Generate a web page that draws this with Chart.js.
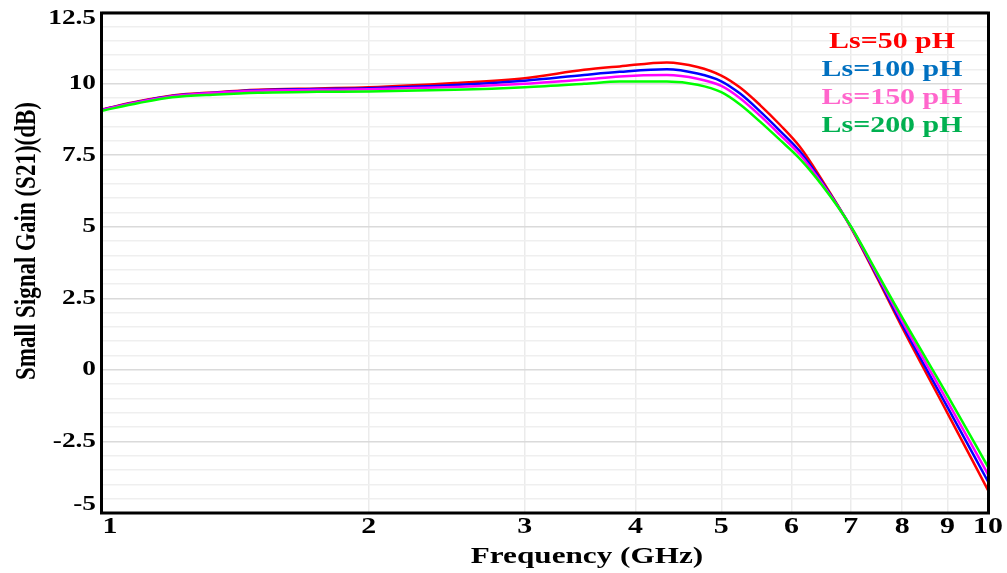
<!DOCTYPE html>
<html><head><meta charset="utf-8">
<script src="https://cdn.jsdelivr.net/npm/chart.js@4/dist/chart.umd.min.js"></script>
<style>html,body{margin:0;padding:0;background:#fff}#wrap{width:1007px;height:573px}</style>
</head><body><div id="wrap"><canvas id="c" width="1007" height="573"></canvas></div>
<script>
const freqGHz   = [1, 1.1, 1.2, 1.35, 1.5, 1.75, 2, 2.5, 3, 3.5, 3.84, 4.34, 4.7, 5, 5.25, 5.53, 5.82, 6.13, 6.5, 7, 7.5, 8, 9, 10];
const gainLs50  = [9.10, 9.38, 9.58, 9.70, 9.78, 9.83, 9.87, 10.02, 10.19, 10.48, 10.60, 10.74, 10.58, 10.28, 9.86, 9.25, 8.57, 7.80, 6.62, 4.98, 3.20, 1.48, -1.51, -4.20];
const gainLs100 = [9.09, 9.37, 9.57, 9.69, 9.77, 9.81, 9.84, 9.95, 10.10, 10.30, 10.41, 10.50, 10.35, 10.08, 9.65, 9.03, 8.36, 7.64, 6.55, 5.00, 3.26, 1.58, -1.30, -3.90];
const gainLs150 = [9.08, 9.36, 9.56, 9.68, 9.75, 9.78, 9.80, 9.88, 9.99, 10.14, 10.25, 10.30, 10.17, 9.92, 9.49, 8.88, 8.22, 7.53, 6.50, 5.00, 3.32, 1.70, -1.10, -3.65];
const gainLs200 = [9.05, 9.32, 9.52, 9.62, 9.68, 9.71, 9.72, 9.78, 9.87, 9.99, 10.07, 10.07, 9.96, 9.70, 9.27, 8.67, 8.04, 7.38, 6.44, 5.02, 3.38, 1.83, -0.89, -3.39];
const seriesNames = ['Ls=50 pH', 'Ls=100 pH', 'Ls=150 pH', 'Ls=200 pH'];
const xTickValues = [1, 2, 3, 4, 5, 6, 7, 8, 9, 10];
const yTickValues = [12.5, 10, 7.5, 5, 2.5, 0, -2.5, -5];
const yTickLabels = ['12.5', '10', '7.5', '5', '2.5', '0', '-2.5', '-5'];
const xTitle = 'Frequency (GHz)';
const yTitle = 'Small Signal Gain (S21)(dB)';

const lineColors = ['#ff0000', '#0000ff', '#ff00ff', '#00ff00'];
const legendColors = ['#ff0000', '#0070c0', '#ff66cc', '#00b050'];
const allGains = [gainLs50, gainLs100, gainLs150, gainLs200];
const FONT = '"Liberation Serif", "Times New Roman", serif';
const STRETCH = 1.3;

function stretchedText(ctx, txt, x, y, size, align, color, rot) {
  ctx.save();
  ctx.translate(x, y);
  ctx.scale(STRETCH, 1);
  if (rot) ctx.rotate(rot);
  ctx.font = 'bold ' + size + 'px ' + FONT;
  ctx.fillStyle = color;
  ctx.textAlign = align;
  ctx.textBaseline = 'middle';
  ctx.fillText(txt, 0, 0);
  ctx.restore();
}

const textPlugin = {
  id: 'textPlugin',
  afterDraw(chart) {
    const ctx = chart.ctx, a = chart.chartArea;
    const xs = chart.scales.x, ys = chart.scales.y;
    ctx.save();
    ctx.strokeStyle = '#000';
    ctx.lineWidth = 3;
    ctx.strokeRect(a.left - 0.5, a.top + 1, a.right - a.left + 1, a.bottom - a.top - 1);
    ctx.restore();
    yTickValues.forEach((v, i) => {
      let y = ys.getPixelForValue(v);
      y = Math.max(19, Math.min(505, y));
      stretchedText(ctx, yTickLabels[i], 96, y, 21, 'right', '#000');
    });
    xTickValues.forEach(v => {
      let x = xs.getPixelForValue(v);
      x = Math.max(110, Math.min(988, x));
      stretchedText(ctx, String(v), x, 527, 23, 'center', '#000');
    });
    stretchedText(ctx, xTitle, 587, 557, 24, 'center', '#000');
    stretchedText(ctx, yTitle, 27, 241, 23, 'center', '#000', -Math.PI / 2);
    seriesNames.forEach((n, i) => {
      stretchedText(ctx, n, 892, 42 + i * 28, 23, 'center', legendColors[i]);
    });
  }
};

new Chart(document.getElementById('c'), {
  type: 'line',
  data: {
    labels: freqGHz,
    datasets: seriesNames.map((n, i) => ({
      label: n,
      data: freqGHz.map((f, j) => ({ x: f, y: allGains[i][j] })),
      borderColor: lineColors[i],
      backgroundColor: lineColors[i],
      borderWidth: 2.5,
      pointRadius: 0,
      cubicInterpolationMode: 'monotone',
      fill: false
    })).reverse()
  },
  options: {
    responsive: false,
    devicePixelRatio: 1,
    animation: false,
    layout: { padding: { top: 12, right: 19, left: 0, bottom: 0 } },
    plugins: { legend: { display: false }, tooltip: { enabled: false } },
    scales: {
      x: {
        type: 'logarithmic', min: 1, max: 10,
        afterBuildTicks: s => { s.ticks = xTickValues.map(v => ({ value: v })); },
        afterFit: s => { s.height = 60; },
        ticks: { display: false },
        grid: { color: '#ebebeb', lineWidth: 1.5, drawTicks: false },
        border: { display: false }
      },
      y: {
        min: -5, max: 12.5,
        ticks: { display: false, stepSize: 0.5 },
        afterFit: s => { s.width = 102; },
        grid: {
          color: c => (Math.abs(c.tick.value / 2.5 - Math.round(c.tick.value / 2.5)) < 1e-6 ? '#dadada' : '#efefef'),
          lineWidth: 1.5, drawTicks: false
        },
        border: { display: false }
      }
    }
  },
  plugins: [textPlugin]
});
</script></body></html>
